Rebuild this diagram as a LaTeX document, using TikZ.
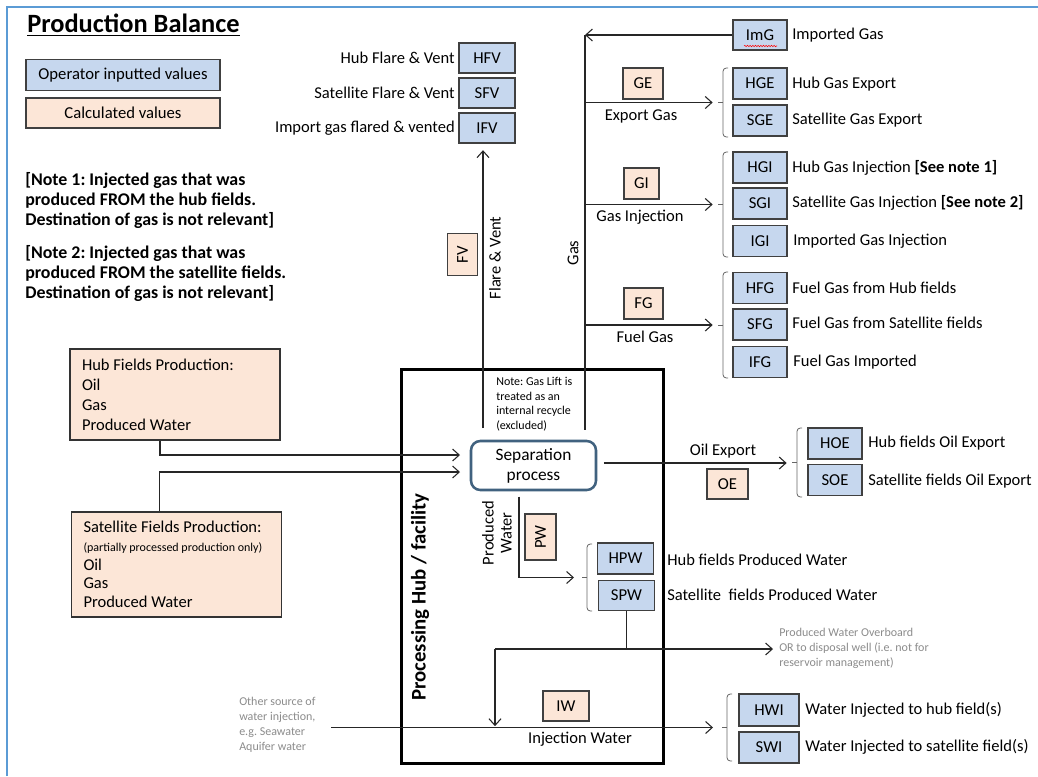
\documentclass[tikz,border=0pt]{standalone}
\usepackage{fontspec}
\setmainfont{Carlito}
\usetikzlibrary{arrows.meta,decorations.pathmorphing}
\definecolor{inblue}{HTML}{C6D7EE}
\definecolor{peach}{HTML}{FCE6D7}
\definecolor{frameblue}{HTML}{5B9BD5}
\definecolor{sepblue}{HTML}{41627F}
\frenchspacing
\newcommand\gbrk[3]{%
  \draw[brk, rounded corners=2.5pt] ({#1+5},#2) -- (#1,#2) -- (#1,#3) -- ({#1+5},#3);
  \draw[brk] ({#1-5},{(#2+#3)/2}) -- (#1,{(#2+#3)/2});}
\begin{document}
\begin{tikzpicture}[x=0.75pt,y=-0.75pt,
  ln/.style={line width=0.8pt, draw=black!85},
  arr/.style={ln, -{Straight Barb[length=5pt,width=9pt]}},
  inbox/.style={draw=black!75, fill=inblue, line width=0.8pt, minimum width=40.5pt, minimum height=23.25pt, inner sep=0pt, font=\fontsize{12.5}{14}\selectfont},
  calcbox/.style={draw=black!75, fill=peach, line width=0.8pt, minimum width=30pt, minimum height=23.25pt, inner sep=0pt, font=\fontsize{12.5}{14}\selectfont},
  lbl/.style={anchor=west, inner sep=0pt, font=\fontsize{12.4}{14}\selectfont},
  lblc/.style={inner sep=0pt, font=\fontsize{12.4}{14}\selectfont},
  rot/.style={rotate=90, inner sep=0pt, font=\fontsize{12.4}{13.5}\selectfont, align=flush center},
  brk/.style={line width=0.6pt, draw=black!60},
  graytxt/.style={text=black!45, font=\fontsize{9}{11.25}\selectfont, align=flush left, anchor=west, inner sep=0pt},
  note/.style={anchor=west, align=flush left, inner sep=0pt, font=\fontsize{13.4}{15}\selectfont\bfseries},
  fieldbox/.style={draw=black!80, fill=peach, line width=0.8pt, text width=139.5pt, inner xsep=9pt, inner ysep=0pt, align=flush left, minimum height=68.25pt},
  sepbox/.style={draw=sepblue, line width=1.9pt, rounded corners=7pt, minimum width=93.75pt, minimum height=36.75pt, align=flush center, inner sep=0pt, fill=white, font=\fontsize{13}{15}\selectfont}
]
\useasboundingbox (0,0) rectangle (1038,776);
\fill[white] (0,0) rectangle (1038,776);
\draw[frameblue, line width=1.5pt] (7,776) -- (7,7) -- (1038,7);

% title and legend
\node[anchor=west, inner sep=0pt, font=\fontsize{19.8}{22}\selectfont\bfseries] (title) at (27,25) {\underline{Production Balance}};
\node[inbox, minimum width=145.5pt, minimum height=23pt] (legIn) at (123,75) {Operator inputted values};
\node[calcbox, minimum width=145.5pt, minimum height=22.5pt] (legCalc) at (123,113) {Calculated values};

% notes
\node[note] (note1) at (25,200) {[Note 1: Injected gas that was\\produced FROM the hub fields.\\Destination of gas is not relevant]};
\node[note] (note2) at (25,273) {[Note 2: Injected gas that was\\produced FROM the satellite fields.\\Destination of gas is not relevant]};

% field boxes
\node[fieldbox, font=\fontsize{12.4}{15}\selectfont] (hub) at (175,394.5) {Hub Fields Production:\\Oil\\Gas\\Produced Water};
\node[fieldbox, minimum height=78.75pt, font=\fontsize{12.4}{14}\selectfont] (sat) at (176.5,564.5) {Satellite Fields Production:\\{\fontsize{9}{10}\selectfont (partially processed production only)}\\Oil\\Gas\\Produced Water};

% processing hub
\draw[line width=2.25pt] (401,369) rectangle (663,763);
\node[rotate=90, inner sep=0pt, font=\fontsize{15.6}{18}\selectfont\bfseries] (hubtxt) at (420,597) {Processing Hub / facility};
\node[sepbox] (sep) at (533.5,465.5) {Separation\\process};
\node[anchor=north west, align=flush left, inner sep=0pt, font=\fontsize{9}{10.9}\selectfont] (gasliftnote) at (496,377) {Note: Gas Lift is\\treated as an\\internal recycle\\(excluded)};

% inputs
\coordinate (in1) at (460,455);
\coordinate (in2) at (460,472);
\draw[arr] ([xshift=-11.25pt]hub.south) |- (in1);
\draw[arr] ([xshift=-13pt]sat.north) |- (in2);

% flare and vent
\node[inbox, minimum width=42pt, minimum height=22.5pt] (HFV) at (487,58) {HFV};
\node[inbox, minimum width=42pt, minimum height=22.5pt] (SFV) at (487,93) {SFV};
\node[inbox, minimum width=42pt, minimum height=22.5pt] (IFV) at (487,128) {IFV};
\node[lbl, anchor=east] (lHFV) at (455,58) {Hub Flare \& Vent};
\node[lbl, anchor=east] (lSFV) at (455,93) {Satellite Flare \& Vent};
\node[lbl, anchor=east] (lIFV) at (455,128) {Import gas flared \& vented};
\coordinate (fvbot) at (483,428);
\draw[arr, shorten >=5pt] (fvbot) -- (fvbot |- IFV.south);
\node[calcbox, rotate=90, minimum width=32pt, minimum height=22.5pt] (FV) at (462.5,254.5) {FV};
\node[rot] (lFV) at (495,258) {Flare \& Vent};

% gas
\node[inbox, minimum height=22.5pt] (ImG) at (760,35) {ImG};
\draw[red, line width=0.4pt, decorate, decoration={snake, amplitude=0.5pt, segment length=2pt}] (744,46) -- (777,46);
\node[lbl] (lImG) at (792,35) {Imported Gas};
\coordinate (gasbot) at (585,430);
\coordinate (gastop) at (ImG.west -| gasbot);
\draw[arr] (ImG.west) -- (gastop);
\draw[ln] (gastop) -- (gasbot);
\node[rot] (lGas) at (573,253) {Gas};

% export gas
\coordinate (bGE) at (718,102.5);
\draw[arr, shorten >=4pt] (bGE -| gasbot) -- (bGE);
\node[calcbox] (GE) at (643,83.5) {GE};
\node[lblc] (lGE) at (641,116) {Export Gas};
\gbrk{723}{68}{137}
\node[inbox] (HGE) at (760,83.5) {HGE};
\node[inbox] (SGE) at (760,120.5) {SGE};
\node[lbl] (lHGE) at (792,84) {Hub Gas Export};
\node[lbl] (lSGE) at (792,120) {Satellite Gas Export};

% gas injection
\coordinate (bGI) at (718,204.5);
\draw[arr, shorten >=4pt] (bGI -| gasbot) -- (bGI);
\node[calcbox, minimum width=26.25pt] (GI) at (641.5,183.5) {GI};
\node[lblc] (lGI) at (640,217) {Gas Injection};
\gbrk{723}{152}{257}
\node[inbox] (HGI) at (760,167.5) {HGI};
\node[inbox] (SGI) at (760,203.5) {SGI};
\node[inbox] (IGI) at (760,241) {IGI};
\node[lbl] (lHGI) at (792,168) {Hub Gas Injection \textbf{[See note 1]}};
\node[lbl] (lSGI) at (792,203) {Satellite Gas Injection \textbf{[See note 2]}};
\node[lbl] (lIGI) at (793,241) {Imported Gas Injection};

% fuel gas
\coordinate (bFG) at (718,325);
\draw[arr, shorten >=4pt] (bFG -| gasbot) -- (bFG);
\node[calcbox, minimum width=29.25pt] (FG) at (643.5,303.5) {FG};
\node[lblc] (lFG) at (645,337) {Fuel Gas};
\gbrk{723}{272}{378}
\node[inbox] (HFG) at (760,288) {HFG};
\node[inbox] (SFG) at (760,324.5) {SFG};
\node[inbox] (IFG) at (760,362) {IFG};
\node[lbl] (lHFG) at (792,288) {Fuel Gas from Hub fields};
\node[lbl] (lSFG) at (792,323) {Fuel Gas from Satellite fields};
\node[lbl] (lIFG) at (793,362) {Fuel Gas Imported};

% oil export
\coordinate (bOE) at (792,463);
\draw[arr, shorten <=5pt, shorten >=4pt] (sep.east |- bOE) -- (bOE);
\node[lblc] (lOE) at (723,451) {Oil Export};
\node[calcbox, minimum width=30.75pt, minimum height=22.5pt] (OE) at (727.5,484) {OE};
\gbrk{797}{428}{497}
\node[inbox] (HOE) at (835,443.5) {HOE};
\node[inbox] (SOE) at (835,480) {SOE};
\node[lbl] (lHOE) at (868,443) {Hub fields Oil Export};
\node[lbl] (lSOE) at (868,481) {Satellite fields Oil Export};

% produced water
\coordinate (pwc) at (519,577.5);
\coordinate (bPW) at (582,577.5);
\draw[arr, shorten <=4pt, shorten >=6pt] (sep.south -| pwc) -- (pwc) -- (bPW);
\node[rot] (lPW) at (497,533) {Produced\\Water};
\node[calcbox, rotate=90, minimum width=34.5pt, minimum height=23.25pt] (PW) at (540.5,537) {PW};
\gbrk{587}{544}{611}
\node[inbox, minimum width=42pt] (HPW) at (625.5,558.5) {HPW};
\node[inbox, minimum width=42pt, minimum height=22.5pt] (SPW) at (626.5,595.5) {SPW};
\node[lbl] (lHPW) at (667,560) {Hub fields Produced Water};
\node[lbl] (lSPW) at (667,595) {Satellite\ \ fields Produced Water};

% overboard
\coordinate (obL) at (495,649);
\coordinate (obR) at (773,649);
\draw[ln] (SPW.south) -- (SPW.south |- obL);
\draw[arr] (obL) -- (obR);
\node[graytxt] (lob) at (779,648) {Produced Water Overboard\\OR to disposal well (i.e. not for\\reservoir management)};

% injection water
\coordinate (iwsrc) at (331,727.5);
\coordinate (bIW) at (721,727.5);
\draw[arr, shorten >=6pt] (iwsrc) -- (bIW);
\draw[arr, shorten >=1pt] (obL) -- (obL |- iwsrc);
\node[graytxt] (lsrc) at (239,725) {Other source of\\water injection,\\e.g. Seawater\\Aquifer water};
\node[calcbox, minimum width=34.5pt, minimum height=22.5pt] (IW) at (566,706) {IW};
\node[lblc] (lIW) at (580,739) {Injection Water};
\gbrk{727}{694}{761}
\node[inbox, minimum width=45pt, minimum height=24pt] (HWI) at (769,710) {HWI};
\node[inbox, minimum width=45pt, minimum height=23.25pt] (SWI) at (769,747.5) {SWI};
\node[lbl] (lHWI) at (805,710) {Water Injected to hub field(s)};
\node[lbl] (lSWI) at (805,747) {Water Injected to satellite field(s)};
\end{tikzpicture}
\end{document}
